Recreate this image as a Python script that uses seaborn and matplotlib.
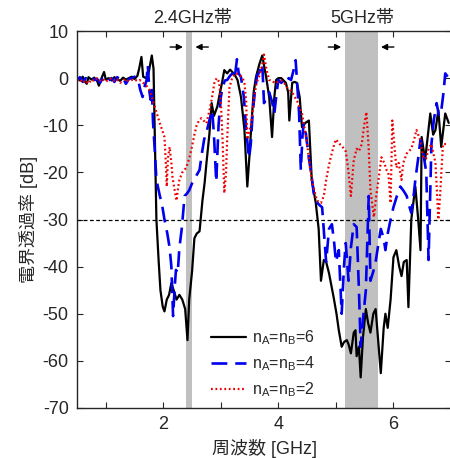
import pandas as pd
import matplotlib
matplotlib.use("Agg")
import matplotlib.pyplot as plt
import seaborn as sns

# transmission data (frequency GHz, dB)
f6 = [0.50, 0.55, 0.60, 0.64, 0.67, 0.70, 0.75, 0.80, 0.85, 0.88, 0.92, 0.97, 1.00, 1.05, 1.10,
      1.15, 1.20, 1.25, 1.30, 1.35, 1.40, 1.45, 1.50, 1.55, 1.58, 1.62, 1.65, 1.70, 1.74, 1.78,
      1.80, 1.83, 1.85, 1.88, 1.92, 1.95, 1.99, 2.02, 2.06, 2.10, 2.14, 2.18, 2.23, 2.28, 2.33,
      2.38, 2.42, 2.45, 2.50, 2.54, 2.58, 2.63, 2.68, 2.72, 2.75, 2.80, 2.84, 2.88, 2.94, 2.97,
      3.02, 3.06, 3.11, 3.16, 3.20, 3.25, 3.29, 3.35, 3.41, 3.46, 3.50, 3.53, 3.57, 3.61, 3.67,
      3.72, 3.76, 3.79, 3.84, 3.89, 3.93, 3.96, 4.00, 4.05, 4.09, 4.13, 4.17, 4.19, 4.24, 4.28,
      4.32, 4.37, 4.41, 4.47, 4.53, 4.58, 4.65, 4.70, 4.74, 4.79, 4.83, 4.88, 4.92, 4.96, 5.01,
      5.05, 5.10, 5.14, 5.19, 5.22, 5.26, 5.31, 5.34, 5.36, 5.40, 5.43, 5.47, 5.52, 5.56, 5.60,
      5.65, 5.69, 5.73, 5.78, 5.83, 5.86, 5.90, 5.95, 6.00, 6.05, 6.10, 6.14, 6.18, 6.23, 6.26,
      6.31, 6.38, 6.43, 6.47, 6.49, 6.55, 6.60, 6.64, 6.69, 6.73, 6.78, 6.83, 6.90, 6.96]
db6 = [0.0, -0.5, 0.3, -0.8, -1.2, 0.2, -0.3, 0.1, -0.6, -1.6, -0.2, 1.3, -0.3, 0.0, -0.5,
       0.2, -0.2, -0.6, 0.1, -0.3, 0.0, 0.3, -0.2, 0.5, 2.0, 4.5, 0.3, 0.0, 0.8, 3.5,
       4.8, 2.0, -11, -30, -39, -45, -48.5, -49.5, -47, -46, -43.5, -45, -47, -46, -47,
       -49, -55.6, -47, -41, -34, -33, -32.5, -26, -22, -18, -12, -5.3, -8, -6, -4,
       -1, 1.7, 1.0, 1.8, 1.3, 0.5, -0.4, -4, -11, -23, -16, -10, -3, 0.2, 3,
       4.8, 2, 0, -4, -12.5, -4, -0.4, 0, 0, -0.5, -1, -3, -9, -1, -0.8,
       -1, -4, -10.4, -9.5, -9, -21.6, -26.5, -32, -43, -38.6, -39, -41.4, -44, -46.5, -50,
       -53.5, -57, -56, -55.6, -56.5, -58.4, -54, -53.5, -59, -57, -63.5, -55, -49, -52, -54,
       -50, -49, -55, -62.6, -53, -50, -53, -47, -38, -36.5, -40, -42, -39, -38.6, -48.6,
       -30, -23, -30, -36.5, -12.5, -17.4, -12, -7.5, -12, -11, -6.8, -14.6, -7.5, -9.5]

f4 = [0.50, 0.55, 0.60, 0.65, 0.70, 0.75, 0.80, 0.85, 0.90, 0.95, 1.00, 1.05, 1.10, 1.15, 1.20,
      1.25, 1.30, 1.35, 1.40, 1.45, 1.50, 1.54, 1.57, 1.60, 1.64, 1.67, 1.71, 1.73, 1.76, 1.78,
      1.80, 1.82, 1.85, 1.88, 1.94, 1.98, 2.02, 2.07, 2.11, 2.14, 2.17, 2.20, 2.22, 2.25, 2.28,
      2.32, 2.37, 2.41, 2.45, 2.50, 2.56, 2.63, 2.67, 2.71, 2.76, 2.80, 2.85, 2.88, 2.92, 2.96,
      3.00, 3.03, 3.07, 3.11, 3.16, 3.20, 3.24, 3.28, 3.31, 3.35, 3.40, 3.44, 3.49, 3.52, 3.55,
      3.59, 3.63, 3.68, 3.72, 3.75, 3.80, 3.84, 3.89, 3.93, 3.97, 4.00, 4.05, 4.09, 4.13, 4.18,
      4.22, 4.26, 4.30, 4.33, 4.36, 4.39, 4.42, 4.44, 4.48, 4.53, 4.58, 4.62, 4.68, 4.72, 4.76,
      4.80, 4.83, 4.88, 4.93, 4.97, 5.00, 5.05, 5.10, 5.14, 5.17, 5.22, 5.26, 5.31, 5.36, 5.40,
      5.43, 5.48, 5.52, 5.57, 5.60, 5.65, 5.69, 5.74, 5.78, 5.83, 5.86, 5.90, 5.95, 6.00, 6.06,
      6.12, 6.18, 6.23, 6.27, 6.31, 6.35, 6.38, 6.43, 6.47, 6.52, 6.57, 6.61, 6.66, 6.70, 6.75,
      6.79, 6.83, 6.87, 6.90, 6.96]
db4 = [-0.5, 0.2, -0.8, 0.0, -0.3, 0.3, -0.4, -0.2, -1.0, 0.0, 0.3, -0.5, 0.0, -0.8, 0.2,
       -0.3, 0.0, -1.2, -0.2, 0.0, 0.3, -0.5, -0.8, -2.5, -4, -2, -0.4, 2.8, -3, -4.6,
       -2, -9, -15, -21.6, -25, -27, -30, -33, -36, -40, -50.5, -44, -40.7, -41.4, -36,
       -32, -25, -24.5, -23.8, -22.3, -21, -19.5, -16, -13, -11, -9, -6.8, -12, -22, -10,
       -4, -2, -0.5, -0.4, 0.5, 1.0, 0, 4, 1, 0.2, -4, -11, -17, -14, -8,
       -3, 0.5, 1.5, 3, -5.3, -4, -3, -5, -7.5, -3, -0.4, -1, -0.5, -1, 0,
       -0.4, 1.5, 3.8, -2, -7.5, -19.5, -12, -9.6, -12, -17, -21, -25, -26.5, -27, -27.4,
       -34, -39, -32, -31, -35, -39, -36.5, -50, -40, -35, -43, -36, -31, -31.6, -45,
       -57, -50, -45, -25, -43, -41, -39, -35, -32, -34, -36.5, -33, -30, -27.4, -25,
       -23, -24, -25, -27, -28.6, -25, -21.6, -17, -13, -16, -20, -38.6, -14, -9, -5.3,
       -8, -7, -3, 1, 0]

f2 = [0.50, 0.55, 0.60, 0.65, 0.70, 0.75, 0.80, 0.85, 0.90, 0.95, 1.00, 1.05, 1.10, 1.15, 1.20,
      1.25, 1.30, 1.35, 1.40, 1.45, 1.50, 1.55, 1.59, 1.65, 1.70, 1.76, 1.80, 1.85, 1.90, 1.94,
      1.98, 2.02, 2.04, 2.06, 2.08, 2.11, 2.14, 2.16, 2.20, 2.23, 2.26, 2.28, 2.33, 2.40, 2.45,
      2.49, 2.54, 2.58, 2.62, 2.66, 2.70, 2.75, 2.80, 2.84, 2.89, 2.93, 2.97, 3.00, 3.03, 3.06,
      3.09, 3.11, 3.15, 3.20, 3.26, 3.32, 3.38, 3.41, 3.44, 3.46, 3.50, 3.53, 3.58, 3.62, 3.67,
      3.72, 3.75, 3.79, 3.84, 3.89, 3.93, 4.00, 4.05, 4.10, 4.15, 4.24, 4.33, 4.41, 4.46, 4.50,
      4.54, 4.58, 4.63, 4.67, 4.74, 4.79, 4.83, 4.87, 4.91, 4.96, 5.00, 5.05, 5.11, 5.17, 5.21,
      5.26, 5.31, 5.36, 5.40, 5.45, 5.49, 5.53, 5.57, 5.60, 5.66, 5.70, 5.74, 5.79, 5.84, 5.88,
      5.91, 5.95, 5.98, 6.02, 6.05, 6.09, 6.14, 6.17, 6.23, 6.31, 6.36, 6.40, 6.46, 6.52, 6.57,
      6.61, 6.66, 6.73, 6.78, 6.81, 6.86, 6.96]
db2 = [-0.5, -0.2, -1.0, -0.5, -1.2, -0.3, -0.6, 0.0, -0.5, -0.2, -0.8, -0.3, 0.0, -0.6, -0.3,
       -1.0, -0.5, -0.2, -0.7, -0.4, -0.3, -0.6, -0.4, -1, -1.5, -2.5, -4, -6, -8, -9.6,
       -11, -12.5, -17, -23, -17, -14.6, -18, -21, -24, -26, -23, -21.6, -20, -19, -17,
       -15, -12, -10, -9, -8.5, -9, -9.6, -7, -4.6, -0.8, 0, -0.8, -5, -13, -24.4,
       -20, -13, -2, 0.2, 1, 0.8, 0, -1, -5, -13, -11, -9.6, -4, -1, 0.5,
       3, 5, 2, -0.4, -0.5, -1, -0.8, -0.5, -1, -2, -3, -5, -7.5, -11, -14,
       -18, -21.6, -24, -26, -26.5, -25, -21.6, -19, -16.8, -14.5, -13, -13.8, -14.5, -15.5, -19,
       -25, -17.4, -15, -15.5, -14, -10, -7.2, -15, -23.8, -29.5, -25, -21.6, -16.8, -18, -19.5,
       -20, -26.5, -9, -15, -19, -18, -21.6, -18, -16, -15, -13, -11, -13, -17, -17,
       -15, -14, -18, -30, -25, -14, -14]

labels = ["n$_\\mathrm{A}$=n$_\\mathrm{B}$=6",
          "n$_\\mathrm{A}$=n$_\\mathrm{B}$=4",
          "n$_\\mathrm{A}$=n$_\\mathrm{B}$=2"]

sns.set_style("ticks")
plt.rcParams['font.family'] = ['Liberation Sans', 'Noto Sans CJK JP']
plt.rcParams['mathtext.fontset'] = 'custom'
plt.rcParams['mathtext.rm'] = 'Liberation Sans'
plt.rcParams['axes.unicode_minus'] = False
plt.rcParams['font.size'] = 13

fig = plt.figure(figsize=(4.5, 4.58), dpi=100)
ax = fig.add_axes([77 / 450, 50 / 458, 374 / 450, 377 / 458])

# frequency bands
ax.axvspan(2.4, 2.5, color="#c0c0c0", lw=0, zorder=0)
ax.axvspan(5.15, 5.725, color="#c0c0c0", lw=0, zorder=0)
ax.axhline(-30, color="black", lw=0.9, ls=(0, (3, 2)), zorder=1)

sns.lineplot(x=f6, y=db6, ax=ax, color="black", lw=1.6, label=labels[0], sort=False)
sns.lineplot(x=f4, y=db4, ax=ax, color="#0000ee", lw=1.9, label=labels[1], sort=False,
             linestyle=(0, (6, 3)))
sns.lineplot(x=f2, y=db2, ax=ax, color="#ee0000", lw=1.6, label=labels[2], sort=False,
             linestyle=(0, (0.8, 1.2)))

ax.set_xlim(0.5, 7)
ax.set_ylim(-70, 10)
ax.set_xticks([1, 2, 3, 4, 5, 6])
ax.set_xticklabels(["", "2", "", "4", "", "6"])
ax.set_yticks(range(-70, 11, 10))
ax.tick_params(direction="in", top=True, right=True, length=4, labelsize=13, pad=6)
for s in ax.spines.values():
    s.set_linewidth(1.0)

ax.set_xlabel("周波数 [GHz]", fontsize=13, labelpad=4)
ax.set_ylabel("電界透過率 [dB]", fontsize=13, labelpad=3)

# band annotations
for x0, x1, xt, txt in [(2.4, 2.5, 2.5, "2.4GHz帯"), (5.15, 5.725, 5.45, "5GHz帯")]:
    ax.annotate("", xy=(x0 - 0.01, 6.6), xytext=(x0 - 0.33, 6.6),
                arrowprops=dict(arrowstyle="-|>", color="black", lw=1, mutation_scale=9))
    ax.annotate("", xy=(x1 + 0.01, 6.6), xytext=(x1 + 0.33, 6.6),
                arrowprops=dict(arrowstyle="-|>", color="black", lw=1, mutation_scale=9))
    ax.text(xt, 12.6, txt, ha="center", va="center", fontsize=13, clip_on=False)

ax.legend(loc="lower right", bbox_to_anchor=(0.645, 0.015), frameon=False, fontsize=11.5,
          handlelength=2.2, handletextpad=0.35, labelspacing=0.45, borderaxespad=0.0,
          borderpad=0.2)

fig.savefig("out.png", dpi=100)
